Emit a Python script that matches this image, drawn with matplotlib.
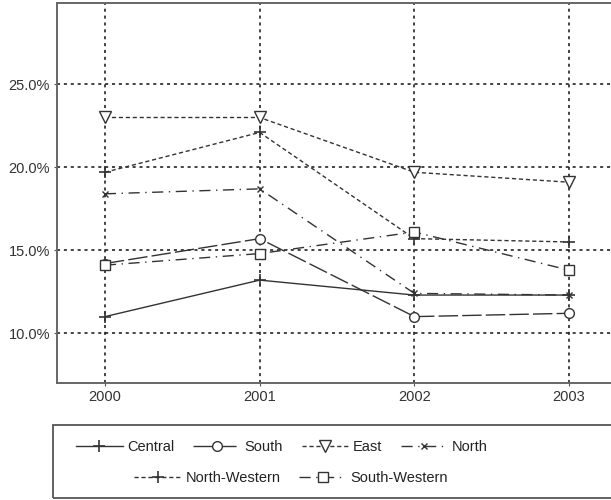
#!/usr/bin/env python3
# coding=utf-8
# ----------------------------------------------------------------------------------------------------
# Regional shares 2000-2003, line chart with open markers, black & white print style
# ----------------------------------------------------------------------------------------------------
import matplotlib
matplotlib.use("Agg")
import matplotlib.pyplot as plt
from matplotlib.patches import Rectangle
from matplotlib.ticker import FuncFormatter
# ----------------------------------------------------------------------------------------------------
years       = [2000, 2001, 2002, 2003]
central     = [11.0, 13.2, 12.3, 12.3]
south       = [14.2, 15.7, 11.0, 11.2]
east        = [23.0, 23.0, 19.7, 19.1]
north       = [18.4, 18.7, 12.4, 12.3]
northwest   = [19.7, 22.1, 15.7, 15.5]
southwest   = [14.1, 14.8, 16.1, 13.8]
yticks      = [10, 15, 20, 25]
# ----------------------------------------------------------------------------------------------------
plt.rcParams['font.family'] = ['Liberation Sans', 'DejaVu Sans']
ink = '#333333'

fig = plt.figure(figsize = (6.11, 5.0), dpi = 100)
ax  = fig.add_axes([57 / 611, 117 / 500, 560 / 611, 380 / 500])

# (label, data, dashes, marker, size)
series = [
    ('Central',        central,   None,              '+', 9),
    ('South',          south,     (0, (14, 3)),      'o', 7),
    ('East',           east,      (0, (3, 2)),       'v', 8),
    ('North',          north,     (0, (8, 4, 1, 4)), 'x', 5),
    ('North-Western',  northwest, (0, (3, 2)),       '+', 8),
    ('South-Western',  southwest, (0, (8, 4, 1, 4)), 's', 7),
]

handles = []
for label, data, ls, mk, ms in series:
    h, = ax.plot(years, data, color = ink, lw = 1.0,
                 linestyle = '-' if ls is None else ls,
                 marker = mk, markersize = ms, markerfacecolor = 'white',
                 markeredgecolor = ink, markeredgewidth = 1.0 if mk != '+' else 1.2,
                 label = label, zorder = 3)
    handles.append(h)

# grid + axes
ax.set_xlim(1999.69, 2003.31)
ax.set_ylim(7.0, 29.9)
ax.set_xticks(years)
ax.set_yticks(yticks)
ax.yaxis.set_major_formatter(FuncFormatter(lambda v, p: '%.1f%%' % v))
ax.grid(True, color = '#111111', lw = 1.1, linestyle = (0, (2, 2.5)))
ax.tick_params(length = 2, color = '#555555', labelsize = 10.5, labelcolor = '#333333', pad = 3)
for s in ax.spines.values():
    s.set_color('#666666')
    s.set_linewidth(1.4)

# legend box + two centred rows
fig.patches.append(Rectangle((53 / 611, 2 / 500), 572 / 611, 73 / 500, transform = fig.transFigure,
                             fill = False, edgecolor = '#555555', lw = 1.3))
kw = dict(frameon = False, fontsize = 10.5, handlelength = 3.2, handletextpad = 0.3,
          columnspacing = 1.3, borderpad = 0, labelcolor = '#222222')
leg1 = fig.legend(handles = handles[:4], ncol = 4, loc = 'center',
                  bbox_to_anchor = (282 / 611, 53 / 500), **kw)
leg2 = fig.legend(handles = handles[4:], ncol = 2, loc = 'center',
                  bbox_to_anchor = (291 / 611, 22 / 500), **kw)

fig.savefig('out.png', dpi = 100)
